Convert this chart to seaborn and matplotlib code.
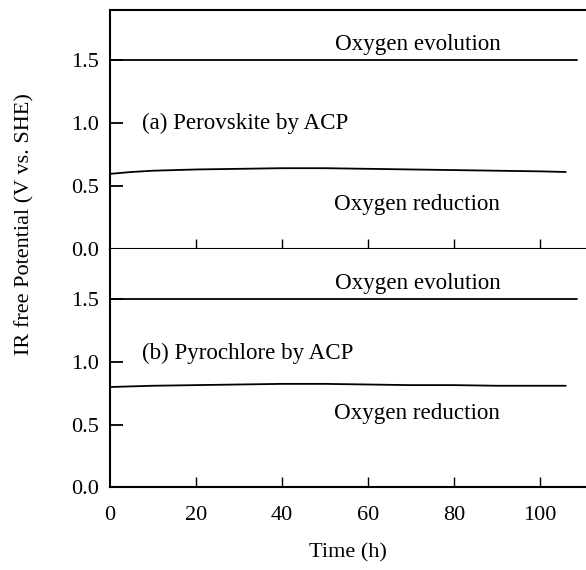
import matplotlib
matplotlib.use("Agg")
import matplotlib.pyplot as plt
import seaborn as sns
import pandas as pd

sns.set_theme(style="white")
plt.rcParams['font.family'] = ['Liberation Serif', 'DejaVu Serif']
plt.rcParams['mathtext.fontset'] = 'stix'

# ---- data ----
evo_time = [0, 108.5]
evo_a = [1.50, 1.50]
evo_b = [1.50, 1.50]

red_time_a = [0, 5, 10, 20, 30, 40, 50, 60, 70, 80, 90, 100, 106]
red_a = [0.60, 0.615, 0.625, 0.635, 0.64, 0.645, 0.645, 0.64, 0.635, 0.63, 0.625, 0.62, 0.615]

red_time_b = [0, 5, 10, 20, 30, 40, 50, 60, 70, 80, 90, 100, 106]
red_b = [0.80, 0.805, 0.81, 0.815, 0.82, 0.825, 0.825, 0.82, 0.815, 0.815, 0.81, 0.81, 0.81]

panel_titles = ["(a) Perovskite by ACP", "(b) Pyrochlore by ACP"]
x_ticks = [0, 20, 40, 60, 80, 100]
y_ticks = [0.0, 0.5, 1.0, 1.5]
y_ticklabels = ["0.0", "0.5", "1.0", "1.5"]

W, H = 586, 570
fig = plt.figure(figsize=(W / 100, H / 100), dpi=100)
left = 110 / W
right = 1.0
top_y0 = 1 - 249.5 / H
top_h = (249.5 - 10) / H
bot_y0 = 1 - 487 / H
bot_h = (487 - 249.5) / H
ax1 = fig.add_axes([left, top_y0, right - left, top_h])
ax2 = fig.add_axes([left, bot_y0, right - left, bot_h])

FS = 16
AFS = 16.6
lw = 1.3

for ax, ev, rt, rv, title, ty in [
    (ax1, evo_a, red_time_a, red_a, panel_titles[0], 1.0),
    (ax2, evo_b, red_time_b, red_b, panel_titles[1], 1.07),
]:
    sns.lineplot(x=evo_time, y=ev, ax=ax, color="black", linewidth=lw)
    sns.lineplot(x=rt, y=rv, ax=ax, color="black", linewidth=lw)
    ax.set_xlim(0, 110.7)
    ax.set_ylim(0, 1.9)
    ax.set_yticks(y_ticks)
    ax.set_yticklabels(y_ticklabels)
    ax.tick_params(axis="y", direction="in", length=9, width=1.3, pad=8,
                   labelsize=FS, left=True, colors="black")
    ax.tick_params(axis="x", direction="in", length=7, width=1.0,
                   labelsize=FS, bottom=True, colors="black")
    ax.set_xticks(x_ticks)
    for s in ["left", "bottom", "top"]:
        ax.spines[s].set_visible(True)
        ax.spines[s].set_color("black")
        ax.spines[s].set_linewidth(1.5)
    ax.spines["right"].set_visible(False)
    ax.text(71.5, 1.63, "Oxygen evolution", ha="center", va="center", fontsize=AFS, color="black")
    ax.text(7.5, ty, title, ha="left", va="center", fontsize=AFS, color="black")
    ax.set_xlabel("")
    ax.set_ylabel("")
    ax.set_facecolor("white")

ax1.text(71.3, 0.36, "Oxygen reduction", ha="center", va="center", fontsize=AFS, color="black")
ax2.text(71.3, 0.59, "Oxygen reduction", ha="center", va="center", fontsize=AFS, color="black")

ax2.spines["top"].set_visible(False)
ax1.tick_params(axis="x", labelbottom=False)
# hide tick at 0 (sits on axis)
for ax in (ax1, ax2):
    ax.xaxis.get_major_ticks()[0].tick1line.set_visible(False)
ax2.tick_params(axis="x", pad=13.5)
ax2.set_xlabel("Time (h)", fontsize=FS, color="black", labelpad=13)

fig.text(25 / W, 1 - 224 / H, "IR free Potential (V vs. SHE)", rotation=90,
         ha="center", va="center", fontsize=FS, color="black")

fig.savefig("out.png", dpi=100, facecolor="white")
